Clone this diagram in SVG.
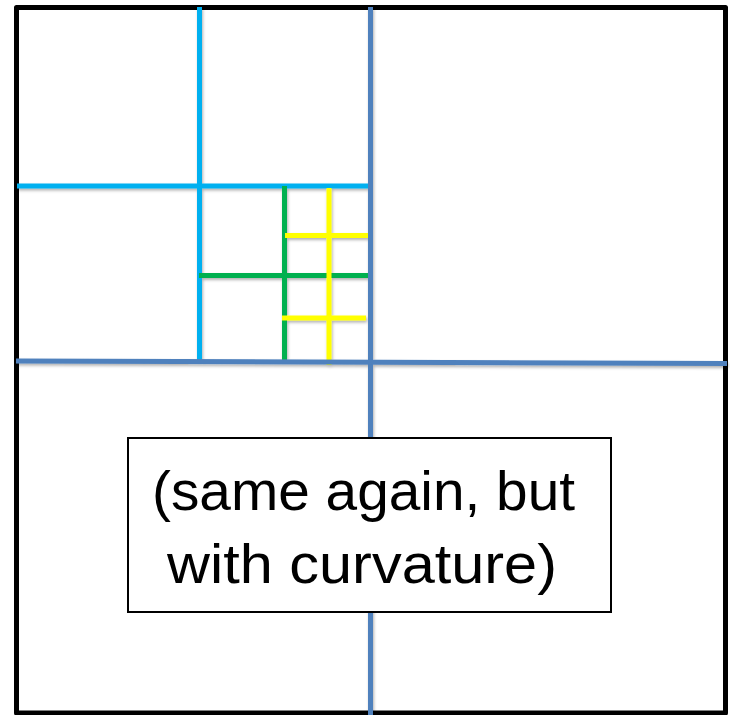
<svg xmlns="http://www.w3.org/2000/svg" width="730" height="715" viewBox="0 0 730 715">
  <defs>
    <filter id="sh" x="-10%" y="-10%" width="120%" height="120%">
      <feDropShadow dx="1" dy="2" stdDeviation="1.5" flood-color="#000" flood-opacity="0.3"/>
    </filter>
  </defs>
  <style>
    .ln { fill: none; stroke-width: 5; stroke-linecap: butt; }
    .lb { stroke: #00B0F0; }
    .sb { stroke: #4F81BD; }
    .gr { stroke: #00B050; }
    .ye { stroke: #FFFF00; }
    .lbl { font-family: "Liberation Sans", Arial, sans-serif; font-size: 56px; fill: #000; text-anchor: middle; }
  </style>
  <rect id="frame" x="16.5" y="7.5" width="709" height="705.5" fill="#fff" stroke="#000" stroke-width="5" stroke-linejoin="round"/>
  <g id="connectors" filter="url(#sh)">
    <g id="lightblue">
      <line class="ln lb" x1="199.5" y1="7" x2="199.5" y2="362"/>
      <line class="ln lb" x1="17" y1="186" x2="371" y2="186"/>
    </g>
    <g id="green">
      <line class="ln gr" x1="284.5" y1="186" x2="284.5" y2="361"/>
      <line class="ln gr" x1="199" y1="275.5" x2="371" y2="275.5"/>
    </g>
    <g id="yellow">
      <line class="ln ye" x1="329" y1="188" x2="329" y2="365"/>
      <line class="ln ye" x1="285" y1="235.5" x2="369" y2="235.5"/>
      <line class="ln ye" x1="282" y1="318" x2="366" y2="318"/>
    </g>
    <g id="steelblue">
      <line class="ln sb" x1="370.5" y1="7" x2="370.5" y2="715"/>
      <line class="ln sb" x1="16" y1="361" x2="727" y2="363.5"/>
    </g>
  </g>
  <g id="note">
    <rect x="128" y="438" width="483" height="174" fill="#fff" stroke="#000" stroke-width="2"/>
    <text class="lbl" x="363.5" y="510" textLength="423" lengthAdjust="spacingAndGlyphs">(same again, but</text>
    <text class="lbl" x="362" y="583" textLength="390" lengthAdjust="spacingAndGlyphs">with curvature)</text>
  </g>
</svg>
